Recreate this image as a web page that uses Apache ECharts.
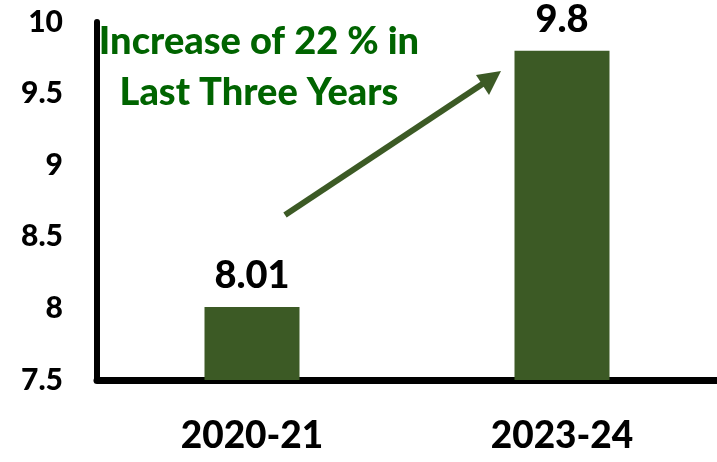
<!DOCTYPE html>
<html>
<head>
<meta charset="utf-8">
<script src="https://cdn.jsdelivr.net/npm/echarts@6/dist/echarts.min.js"></script>
<style>
html,body{margin:0;padding:0;background:#fff;}
#chart{width:717px;height:462px;}
</style>
</head>
<body>
<div id="chart"></div>
<script>
const categories = ['2020-21', '2023-24'];
const values = [8.01, 9.8];
const yTicks = [7.5, 8, 8.5, 9, 9.5, 10];
const noteLines = ['Increase of 22 % in', 'Last Three Years'];

const barColor = '#3c5a25';
const fontFamily = 'Lato, "Open Sans", sans-serif';

const chart = echarts.init(document.getElementById('chart'));
chart.setOption({
  animation: false,
  grid: { left: 97, right: 0, top: 22, bottom: 82 },
  xAxis: {
    type: 'category',
    data: categories,
    axisLine: { lineStyle: { color: '#000', width: 7 } },
    axisTick: { show: false },
    axisLabel: { color: '#000', fontSize: 37, fontWeight: 900, fontFamily: fontFamily, margin: 38 }
  },
  yAxis: {
    type: 'value',
    min: yTicks[0],
    max: yTicks[yTicks.length - 1],
    interval: 0.5,
    axisLine: { show: true, lineStyle: { color: '#000', width: 6 } },
    axisTick: { show: false },
    splitLine: { show: false },
    axisLabel: { color: '#000', fontSize: 30, fontWeight: 900, fontFamily: fontFamily, margin: 34 }
  },
  series: [{
    type: 'bar',
    data: values,
    barWidth: 95,
    itemStyle: { color: barColor },
    label: {
      show: true,
      position: 'top',
      distance: 12,
      color: '#000',
      fontSize: 38,
      fontWeight: 900,
      fontFamily: fontFamily
    }
  }],
  graphic: [
    {
      type: 'text',
      x: 0, y: 0,
      style: {
        text: noteLines.join('\n'),
        x: 259, y: 16,
        textAlign: 'center',
        fill: '#006400',
        fontSize: 38,
        fontWeight: 900,
        fontFamily: fontFamily,
        lineHeight: 51
      }
    },
    {
      type: 'line',
      shape: { x1: 285, y1: 215, x2: 490, y2: 79 },
      style: { stroke: barColor, lineWidth: 6 }
    },
    {
      type: 'polygon',
      shape: { points: [[501, 71], [476, 75], [489, 95]] },
      style: { fill: barColor }
    }
  ]
});
</script>
</body>
</html>
